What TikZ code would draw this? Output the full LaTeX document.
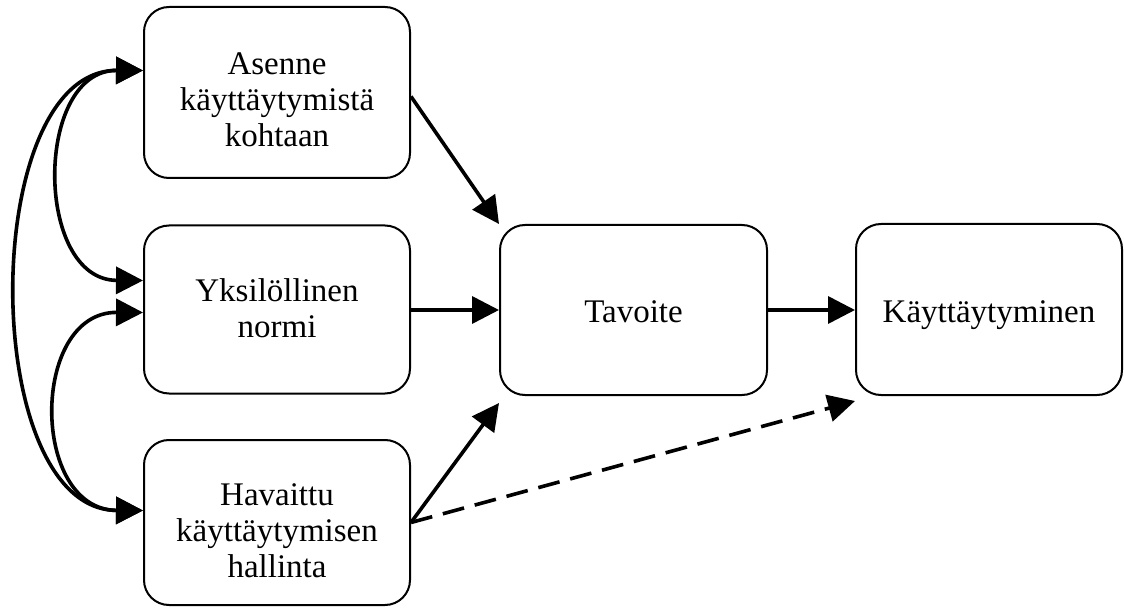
\documentclass[tikz,border=0pt]{standalone}
\usepackage{fontspec}
\setmainfont{Liberation Serif}
\usetikzlibrary{arrows.meta,calc}

\tikzset{
  box/.style={draw, line width=2pt, rounded corners=25pt,
    minimum width=266pt, minimum height=168pt, align=center,
    font=\fontsize{33}{36}\selectfont, inner sep=0pt, text depth=0pt},
  head/.tip={Triangle[length=27pt,width=27pt]},
  link/.style={line width=3.6pt, -head},
  bilink/.style={line width=3.6pt, head-head},
  dashlink/.style={link, dash pattern=on 22pt off 11pt}
}

\begin{document}
\begin{tikzpicture}[x=1pt, y=1pt]
  \useasboundingbox (0,0) rectangle (1124,611);

  % predictors
  \node[box, minimum height=171pt, text height=109pt] (att) at (277,518.5) {Asenne\\käyttäytymistä\\kohtaan};
  \node[box, text height=57pt] (norm) at (277,301.5) {Yksilöllinen\\normi};
  \node[box, minimum height=165pt, text height=109pt] (pbc) at (277,88.5) {Havaittu\\käyttäytymisen\\hallinta};

  % intention and behaviour
  \node[box, minimum width=267pt, minimum height=170pt, text height=26pt] (int) at (633.5,301) {Tavoite};
  \node[box, minimum height=171pt, text height=27pt] (beh) at (989,301.5) {Käyttäytyminen};

  % end points of the correlation arcs on the left
  \coordinate (a1) at ($(att.west)+(0,22)$);
  \coordinate (n1) at ($(norm.west)+(0,29)$);
  \coordinate (n2) at ($(norm.west)+(0,-3)$);
  \coordinate (p1) at ($(pbc.west)+(0,12)$);

  % correlations between predictors
  \draw[bilink] (a1) .. controls (-22,541) and (-22,101) .. (p1);
  \draw[bilink] (a1) .. controls (34,541) and (34,331) .. (n1);
  \draw[bilink] (n2) .. controls (30,299) and (30,101) .. (p1);

  % direct paths
  \draw[link] ($(att.east)+(0,-4)$) -- (int.north west);
  \draw[link] (norm.east |- int.west) -- (int.west);
  \draw[link] (pbc.east) -- ($(int.south west)+(0,-7)$);
  \draw[link] (int.east) -- (beh.west |- int.east);
  \draw[dashlink] (pbc.east) -- ($(beh.south west)+(0,-5)$);
\end{tikzpicture}
\end{document}
